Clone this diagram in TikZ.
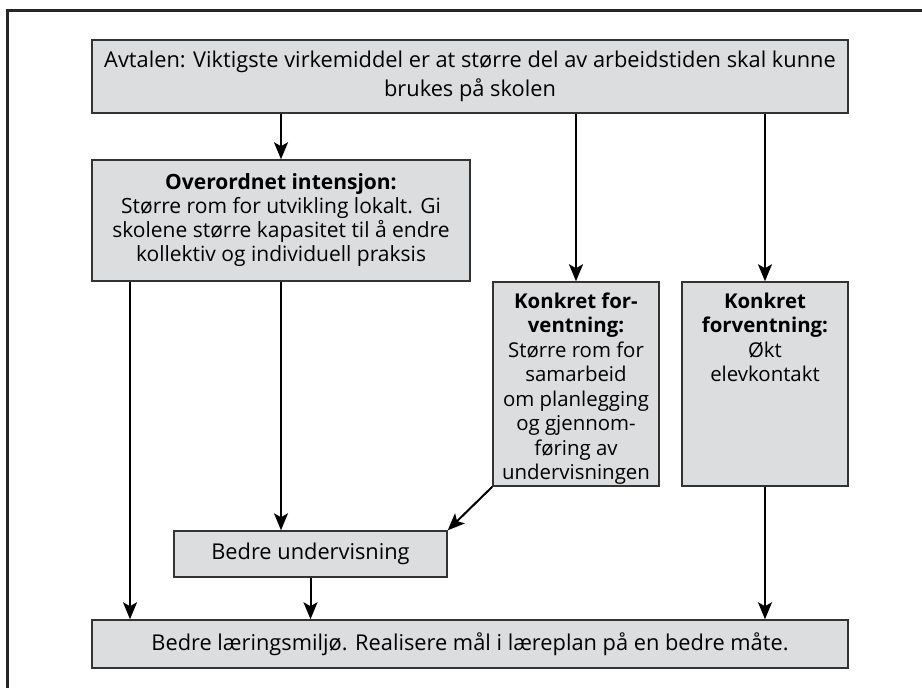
\documentclass[tikz,border=0pt]{standalone}
\usepackage{fontspec}
\setmainfont{Open Sans}
\usepackage{xcolor}
\usetikzlibrary{arrows.meta, calc}

\definecolor{boxgray}{HTML}{DCDDDF}
\definecolor{edgegray}{HTML}{333333}

\begin{document}
\begin{tikzpicture}[x = 0.5pt, y = -0.5pt,
		box/.style = {draw = edgegray, line width = 0.75pt, fill = boxgray, inner sep = 0pt, align = center, font = \fontsize{10.9}{12}\selectfont},
		boxtext/.style = {anchor = north, inner sep = 0pt, align = center, font = \fontsize{10.2}{12.25}\selectfont},
		arr/.style = {line width = 1pt, -{Stealth[length = 8.5pt, width = 7pt, inset = 2pt]}}]
	\useasboundingbox (0,0) rectangle (922,687);
	\begin{scope}
		\clip (0,0) rectangle (922,687);
		\draw [line width = 1.5pt, black!85] (7,10) rectangle (960,720);
	\end{scope}

	\node [box, minimum width = 378pt, minimum height = 36.5pt, font = \fontsize{10.9}{14.5}\selectfont] (avtale) at (470,76.5)
		{Avtalen: Viktigste virkemiddel er at større del av arbeidstiden skal kunne\\brukes på skolen};
	\node [box, minimum width = 189pt, minimum height = 60.5pt, font = \fontsize{10.5}{12}\selectfont] (overordnet) at (281,220.5)
		{\textbf{Overordnet intensjon:}\\Større rom for utvikling lokalt. Gi\\skolene større kapasitet til å endre\\kollektiv og individuell praksis};
	\node [box, minimum width = 83pt, minimum height = 102pt] (konkret1) at (576,384) {};
	\node [box, minimum width = 83pt, minimum height = 102pt] (konkret2) at (765,384) {};
	\node [box, minimum width = 136.5pt, minimum height = 23pt] (undervisning) at (310.5,554) {Bedre undervisning};
	\node [box, minimum width = 378pt, minimum height = 24pt] (laering) at (470,644)
		{Bedre læringsmiljø. Realisere mål i læreplan på en bedre måte.};

	\node [boxtext] (konkret1tekst) at ([yshift = -5.5pt]konkret1.north)
		{\textbf{Konkret for-}\\\textbf{ventning:}\\Større rom for\\samarbeid\\om planlegging\\og gjennom-\\føring av\\undervisningen};
	\node [boxtext] (konkret2tekst) at ([yshift = -5.5pt]konkret2.north)
		{\textbf{Konkret}\\\textbf{forventning:}\\Økt\\elevkontakt};

	\coordinate (venstre) at (130,0);

	\begin{scope}[arr]
		\foreach \n in {overordnet, konkret1, konkret2}
		{
			\draw (avtale.south -| \n.north) -- (\n.north);
		}
		\draw (overordnet.south -| venstre) -- (laering.north -| venstre);
		\draw (overordnet.south) -- (undervisning.north -| overordnet.south);
		\draw (konkret1.south west) -- (undervisning.north east);
		\draw (undervisning.south) -- (laering.north -| undervisning.south);
		\draw (konkret2.south) -- (laering.north -| konkret2.south);
	\end{scope}
\end{tikzpicture}
\end{document}
